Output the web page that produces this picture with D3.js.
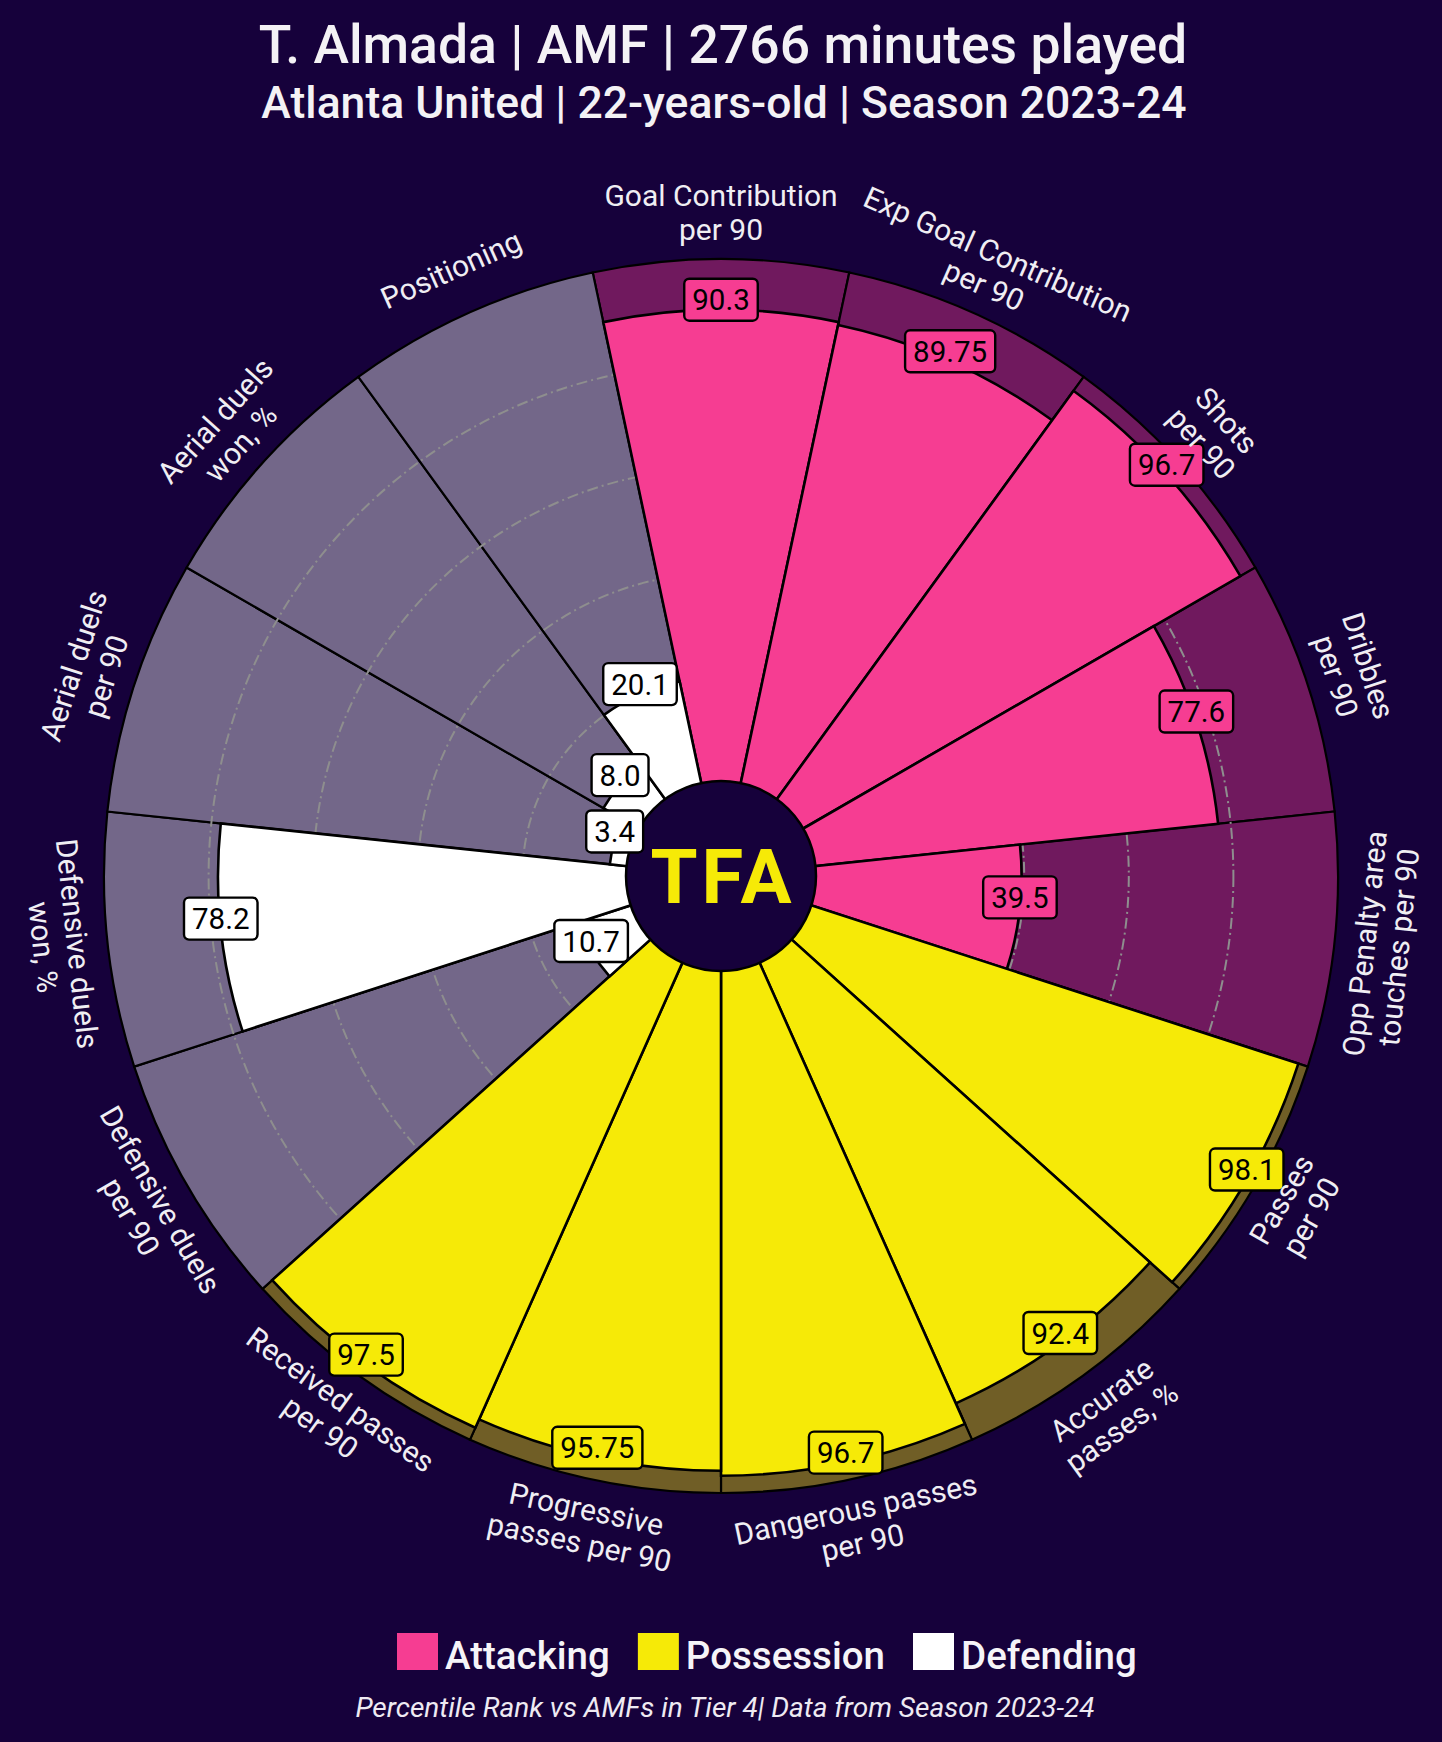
<!DOCTYPE html>
<html>
<head>
<meta charset="utf-8">
<script src="https://cdn.jsdelivr.net/npm/d3@7"></script>
<style>
  html, body { margin: 0; padding: 0; background: #16013b; }
  svg { display: block; }
</style>
</head>
<body>
<svg id="chart" width="1442" height="1742"></svg>
<script>
// ---------- DATA ----------
const params = [
  "Goal Contribution\nper 90",
  "Exp Goal Contribution\nper 90",
  "Shots\nper 90",
  "Dribbles\nper 90",
  "Opp Penalty area\ntouches per 90",
  "Passes\nper 90",
  "Accurate\npasses, %",
  "Dangerous passes\nper 90",
  "Progressive\npasses per 90",
  "Received passes\nper 90",
  "Defensive duels\nper 90",
  "Defensive duels\nwon, %",
  "Aerial duels\nper 90",
  "Aerial duels\nwon, %",
  "Positioning"
];
const values = [90.3, 89.75, 96.7, 77.6, 39.5, 98.1, 92.4, 96.7, 95.75, 97.5, 10.7, 78.2, 3.4, 8.0, 20.1];
const valueLabels = ["90.3", "89.75", "96.7", "77.6", "39.5", "98.1", "92.4", "96.7", "95.75", "97.5", "10.7", "78.2", "3.4", "8.0", "20.1"];
const groups = ["Attacking","Attacking","Attacking","Attacking","Attacking",
                "Possession","Possession","Possession","Possession","Possession",
                "Defending","Defending","Defending","Defending","Defending"];
const groupNames = ["Attacking", "Possession", "Defending"];
const gridTicks = [20, 40, 60, 80];

const title = "T. Almada | AMF | 2766 minutes played";
const subtitle = "Atlanta United | 22-years-old | Season 2023-24";
const footer = "Percentile Rank vs AMFs in Tier 4| Data from Season 2023-24";

// ---------- STYLE ----------
const BG = "#16013b";
const color = d3.scaleOrdinal().domain(groupNames).range(["#f63d92", "#f6ea07", "#ffffff"]);
const cx = 721, cy = 876;
const R0 = 94, R = 617;
const labelR = 664;
const font = "Roboto, 'Noto Sans', sans-serif";

const svg = d3.select("#chart");
svg.append("rect").attr("width", 1442).attr("height", 1742).attr("fill", BG);

const r = d3.scaleLinear().domain([0, 100]).range([R0, R]);
const n = params.length;
const step = 2 * Math.PI / n;
const angle = d3.scaleLinear().domain([0, n]).range([0, 2 * Math.PI]);

const g = svg.append("g").attr("transform", `translate(${cx},${cy})`);

const idx = d3.range(n);

// background slices
g.selectAll("path.bgslice").data(idx).join("path")
  .attr("class", "bgslice")
  .attr("d", i => d3.arc()({innerRadius: R0, outerRadius: R,
      startAngle: angle(i) - step / 2, endAngle: angle(i) + step / 2}))
  .attr("fill", i => d3.interpolateRgb(BG, color(groups[i]))(0.4))
  .attr("stroke", "#000").attr("stroke-width", 2.2);

// grid circles
g.selectAll("circle.grid").data(gridTicks).join("circle")
  .attr("class", "grid")
  .attr("r", d => r(d))
  .attr("fill", "none")
  .attr("stroke", "#8e8e8e")
  .attr("stroke-width", 2)
  .attr("stroke-dasharray", "11,4,2,4");

// value slices
g.selectAll("path.slice").data(idx).join("path")
  .attr("class", "slice")
  .attr("d", i => d3.arc()({innerRadius: R0, outerRadius: r(values[i]),
      startAngle: angle(i) - step / 2, endAngle: angle(i) + step / 2}))
  .attr("fill", i => color(groups[i]))
  .attr("stroke", "#000").attr("stroke-width", 2.6);

// center circle + logo
g.append("circle").attr("r", 95).attr("fill", BG).attr("stroke", "#000").attr("stroke-width", 2.5);
g.append("text").attr("x", 2).attr("y", 27)
  .attr("text-anchor", "middle")
  .attr("font-family", font).attr("font-weight", 700)
  .attr("font-size", 76).attr("fill", "#f6ea07")
  .attr("letter-spacing", 4)
  .text("TFA");

// value boxes
const vb = g.selectAll("g.vbox").data(idx).join("g")
  .attr("class", "vbox")
  .attr("transform", i => {
    const a = angle(i), rr = r(values[i]);
    return `translate(${rr * Math.sin(a)},${-rr * Math.cos(a) - 10})`;
  });
vb.each(function(i) {
  const s = d3.select(this);
  const t = s.append("text")
    .attr("text-anchor", "middle").attr("dy", "0.36em")
    .attr("font-family", font).attr("font-size", 29.5).attr("fill", "#000")
    .text(valueLabels[i]);
  const w = t.node().getComputedTextLength() + 16;
  s.insert("rect", "text")
    .attr("x", -w / 2).attr("y", -21).attr("width", w).attr("height", 42)
    .attr("rx", 5).attr("ry", 5)
    .attr("fill", color(groups[i])).attr("stroke", "#000").attr("stroke-width", 2.4);
});

// parameter labels
const lineH = 34;
g.selectAll("text.param").data(idx).join("text")
  .attr("class", "param")
  .attr("font-family", font).attr("font-size", 30).attr("fill", "#f0eef3")
  .attr("text-anchor", "middle")
  .attr("transform", i => {
    const a = angle(i), deg = a * 180 / Math.PI;
    const x = labelR * Math.sin(a), y = -labelR * Math.cos(a);
    const rot = (deg > 90 && deg < 270) ? deg - 180 : deg;
    return `translate(${x},${y}) rotate(${rot})`;
  })
  .each(function(i) {
    const lines = params[i].split("\n");
    const t = d3.select(this);
    const off = -(lines.length - 1) * lineH / 2;
    lines.forEach((ln, k) => {
      t.append("tspan").attr("x", 0).attr("y", off + k * lineH).attr("dy", "0.36em").text(ln);
    });
  });

// titles
svg.append("text").attr("x", 723).attr("y", 63).attr("text-anchor", "middle")
  .attr("font-family", font).attr("font-weight", 500).attr("font-size", 53.5)
  .attr("fill", "#f4f2f5").text(title);
svg.append("text").attr("x", 724).attr("y", 118).attr("text-anchor", "middle")
  .attr("font-family", font).attr("font-weight", 500).attr("font-size", 44.5)
  .attr("fill", "#f4f2f5").text(subtitle);

// legend
const leg = svg.append("g");
let lx = 397;
groupNames.forEach(name => {
  leg.append("rect").attr("x", lx).attr("y", 1633).attr("width", 41).attr("height", 37)
    .attr("fill", color(name));
  const t = leg.append("text").attr("x", lx + 48).attr("y", 1669)
    .attr("font-family", font).attr("font-weight", 500).attr("font-size", 38.5)
    .attr("fill", "#f6f4f8").text(name);
  lx = lx + 48 + t.node().getComputedTextLength() + 28;
});

// footer
svg.append("text").attr("x", 725).attr("y", 1717).attr("text-anchor", "middle")
  .attr("font-family", font).attr("font-style", "italic").attr("font-size", 28)
  .attr("fill", "#eeeaf2").text(footer);
</script>
</body>
</html>
